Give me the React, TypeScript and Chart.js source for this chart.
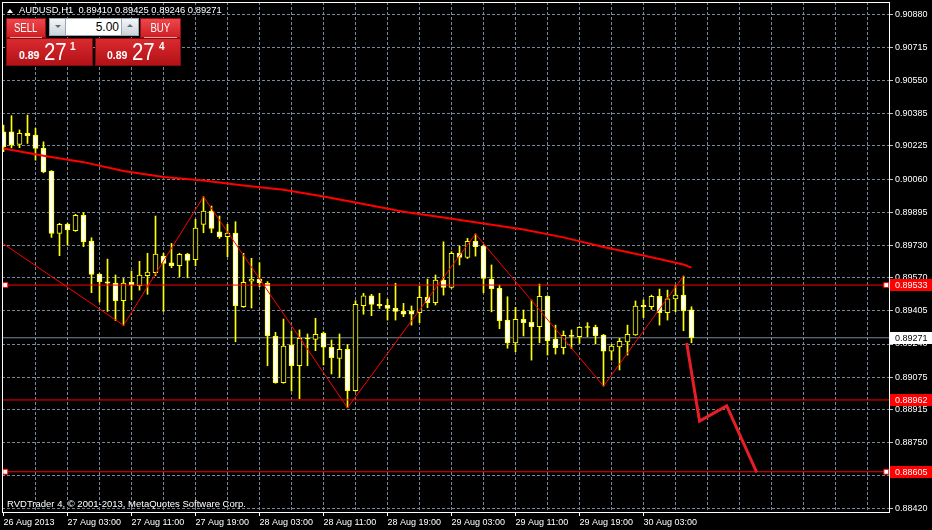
import React, { useEffect, useRef } from "react";
import { Chart, registerables } from "chart.js";

Chart.register(...registerables);

// ---- Data (AUDUSD H1, bars numbered from the left edge) ----
const OPEN = [
  0.90295, 0.90295, 0.90232, 0.90287, 0.90279, 0.90213, 0.90100, 0.89790, 0.89835, 0.89803,
  0.89880, 0.89752, 0.89588, 0.89549, 0.89543, 0.89455, 0.89547, 0.89530, 0.89580, 0.89594,
  0.89677, 0.89643, 0.89629, 0.89687, 0.89659, 0.89835, 0.89901, 0.89797, 0.89773, 0.89792,
  0.89425, 0.89552, 0.89563, 0.89542, 0.89278, 0.89048, 0.89235, 0.89132, 0.89268, 0.89263,
  0.89293, 0.89224, 0.89169, 0.89214, 0.89008, 0.89430, 0.89479, 0.89437, 0.89432, 0.89417,
  0.89402, 0.89402, 0.89396, 0.89472, 0.89445, 0.89558, 0.89521, 0.89691, 0.89670, 0.89750,
  0.89727, 0.89563, 0.89517, 0.89359, 0.89246, 0.89363, 0.89348, 0.89326, 0.89477, 0.89265,
  0.89222, 0.89283, 0.89277, 0.89323, 0.89323, 0.89285, 0.89204, 0.89226, 0.89251, 0.89285,
  0.89432, 0.89425, 0.89477, 0.89396, 0.89464, 0.89483, 0.89410,
];
const HIGH = [
  0.90328, 0.90375, 0.90304, 0.90378, 0.90312, 0.90245, 0.90102, 0.89840, 0.89840, 0.89885,
  0.89893, 0.89768, 0.89590, 0.89662, 0.89583, 0.89566, 0.89603, 0.89651, 0.89691, 0.89876,
  0.89691, 0.89740, 0.89691, 0.89691, 0.89860, 0.89972, 0.89926, 0.89876, 0.89835, 0.89848,
  0.89691, 0.89666, 0.89644, 0.89550, 0.89298, 0.89364, 0.89305, 0.89310, 0.89290, 0.89368,
  0.89300, 0.89260, 0.89290, 0.89238, 0.89455, 0.89492, 0.89487, 0.89492, 0.89462, 0.89542,
  0.89442, 0.89429, 0.89528, 0.89563, 0.89583, 0.89748, 0.89699, 0.89727, 0.89765, 0.89787,
  0.89730, 0.89633, 0.89533, 0.89475, 0.89422, 0.89409, 0.89459, 0.89538, 0.89480, 0.89334,
  0.89305, 0.89310, 0.89326, 0.89346, 0.89334, 0.89288, 0.89238, 0.89268, 0.89334, 0.89454,
  0.89459, 0.89483, 0.89513, 0.89508, 0.89533, 0.89578, 0.89425,
];
const LOW = [
  0.90196, 0.90215, 0.90216, 0.90237, 0.90154, 0.90091, 0.89770, 0.89679, 0.89732, 0.89800,
  0.89724, 0.89495, 0.89449, 0.89402, 0.89356, 0.89333, 0.89459, 0.89508, 0.89487, 0.89580,
  0.89402, 0.89619, 0.89574, 0.89569, 0.89629, 0.89793, 0.89793, 0.89765, 0.89674, 0.89251,
  0.89422, 0.89419, 0.89525, 0.89132, 0.89045, 0.89045, 0.89006, 0.88968, 0.89132, 0.89207,
  0.89136, 0.89091, 0.89074, 0.88923, 0.89005, 0.89388, 0.89381, 0.89417, 0.89359, 0.89359,
  0.89376, 0.89334, 0.89346, 0.89420, 0.89434, 0.89483, 0.89517, 0.89633, 0.89665, 0.89677,
  0.89495, 0.89400, 0.89316, 0.89219, 0.89202, 0.89280, 0.89160, 0.89246, 0.89185, 0.89190,
  0.89190, 0.89217, 0.89243, 0.89276, 0.89240, 0.89031, 0.89160, 0.89111, 0.89185, 0.89283,
  0.89371, 0.89412, 0.89334, 0.89359, 0.89400, 0.89306, 0.89246,
];
const CLOSE = [
  0.90221, 0.90229, 0.90287, 0.90276, 0.90212, 0.90096, 0.89790, 0.89835, 0.89807, 0.89880,
  0.89748, 0.89586, 0.89550, 0.89543, 0.89455, 0.89543, 0.89532, 0.89583, 0.89598, 0.89687,
  0.89641, 0.89629, 0.89686, 0.89656, 0.89816, 0.89901, 0.89815, 0.89773, 0.89792, 0.89430,
  0.89547, 0.89563, 0.89545, 0.89281, 0.89048, 0.89230, 0.89132, 0.89268, 0.89265, 0.89288,
  0.89224, 0.89172, 0.89214, 0.89008, 0.89437, 0.89479, 0.89437, 0.89430, 0.89417, 0.89402,
  0.89388, 0.89388, 0.89472, 0.89445, 0.89558, 0.89521, 0.89691, 0.89670, 0.89750, 0.89724,
  0.89566, 0.89515, 0.89356, 0.89246, 0.89363, 0.89346, 0.89326, 0.89477, 0.89256, 0.89222,
  0.89283, 0.89278, 0.89323, 0.89322, 0.89281, 0.89204, 0.89230, 0.89253, 0.89288, 0.89429,
  0.89425, 0.89477, 0.89396, 0.89464, 0.89483, 0.89405, 0.89271,
];

const X_LABELS = [
  "26 Aug 2013", "27 Aug 03:00", "27 Aug 11:00", "27 Aug 19:00", "28 Aug 03:00", "28 Aug 11:00",
  "28 Aug 19:00", "29 Aug 03:00", "29 Aug 11:00", "29 Aug 19:00", "30 Aug 03:00",
];
const X_LABEL_BARS = [0, 8, 16, 24, 32, 40, 48, 56, 64, 72, 80];

const Y_TICKS = [
  0.9088, 0.90715, 0.9055, 0.90385, 0.90225, 0.9006, 0.89895, 0.8973, 0.8957, 0.89405,
  0.8924, 0.89075, 0.88915, 0.8875, 0.88585, 0.8842,
];

const ZIGZAG_BARS = [-0.3, 15, 25, 43, 59, 75, 85];
const ZIGZAG_PRICES = [0.89746, 0.89333, 0.89972, 0.88923, 0.89787, 0.89031, 0.89578];

const TREND_BARS = [0, 5, 10, 15, 20, 25, 30, 35, 40, 45, 50, 55, 60, 65, 70, 75, 80, 85, 86];
const TREND_PRICES = [
  0.90212, 0.90176, 0.90144, 0.901, 0.9007, 0.90053, 0.90028, 0.90007, 0.89973, 0.89936,
  0.89897, 0.89869, 0.89839, 0.89809, 0.8977, 0.89722, 0.8968, 0.89635, 0.8962,
];

const FORECAST_BARS = [85.4, 87.0, 90.4, 94.15];
const FORECAST_PRICES = [0.89245, 0.88857, 0.88932, 0.88602];

const LEVELS = [0.89533, 0.88962, 0.88605];
const SELECTED_LEVELS = [0.89533, 0.88605];
const SELECTED_MARK_BARS = [0.225, 110.35];
const BID = 0.89271;

// ---- Scale settings ----
const X_MIN = -0.1875;
const X_MAX = 110.6875;
const X_GRID_STEP = 4;
const Y_MIN = 0.88405;
const Y_MAX = 0.9094;

const FONT = '"Liberation Sans", Arial, sans-serif';
const GRID = "#778899";
const YELLOW = "#ffff00";
const RED = "#ff0000";
const CLEAR = "rgba(0,0,0,0)";

const framePlugin = {
  id: "mt4Frame",
  afterDraw(chart: any) {
    const { ctx, chartArea: a, scales } = chart;
    const y = scales.y;
    ctx.save();
    ctx.strokeStyle = "#ffffff";
    ctx.lineWidth = 1;
    ctx.setLineDash([]);
    ctx.strokeRect(a.left + 0.5, a.top + 0.5, a.right - a.left, a.bottom - a.top);
    ctx.font = `9px ${FONT}`;
    ctx.textBaseline = "middle";
    ctx.textAlign = "left";
    const tags = [
      ...LEVELS.map((v) => ({ v, bg: "#ff0000", fg: "#ffffff" })),
      { v: BID, bg: "#ffffff", fg: "#000000" },
    ];
    for (const t of tags) {
      const py = Math.round(y.getPixelForValue(t.v));
      ctx.fillStyle = t.bg;
      ctx.fillRect(a.right + 1, py - 6, chart.width - a.right - 1, 12);
      ctx.fillStyle = t.fg;
      ctx.fillText(t.v.toFixed(5), a.right + 6, py + 0.5);
    }
    ctx.restore();
  },
};

function CandleChart() {
  const ref = useRef<HTMLCanvasElement | null>(null);
  useEffect(() => {
    const canvas = ref.current;
    if (!canvas) return;
    const idx = OPEN.map((_, i) => i);
    const hline = (v: number) => [
      { x: X_MIN - 2, y: v },
      { x: X_MAX + 2, y: v },
    ];
    const datasets: any[] = [
      {
        type: "line",
        data: hline(BID),
        borderColor: GRID,
        borderWidth: 1,
        pointRadius: 0,
        order: 40,
      },
      {
        type: "bar",
        data: idx.map((i) => ({ x: i, y: [LOW[i], HIGH[i]] })),
        backgroundColor: YELLOW,
        borderWidth: 0,
        barThickness: 1,
        grouped: false,
        order: 30,
      },
      {
        type: "bar",
        data: idx.map((i) => ({ x: i, y: [OPEN[i], CLOSE[i]] })),
        backgroundColor: idx.map((i) => (CLOSE[i] > OPEN[i] ? "#000000" : "#ffffff")),
        borderColor: YELLOW,
        borderWidth: 1,
        borderSkipped: false,
        barThickness: 5,
        minBarLength: 1,
        grouped: false,
        order: 20,
      },
      ...LEVELS.map((v) => ({
        type: "line",
        data: hline(v),
        borderColor: RED,
        borderWidth: 1,
        pointRadius: 0,
        order: 10,
      })),
      {
        type: "line",
        data: TREND_BARS.map((b, i) => ({ x: b, y: TREND_PRICES[i] })),
        borderColor: RED,
        borderWidth: 2,
        pointRadius: 0,
        order: 9,
      },
      {
        type: "line",
        data: ZIGZAG_BARS.map((b, i) => ({ x: b, y: ZIGZAG_PRICES[i] })),
        borderColor: RED,
        borderWidth: 1,
        pointRadius: 0,
        order: 8,
      },
      {
        type: "line",
        data: FORECAST_BARS.map((b, i) => ({ x: b, y: FORECAST_PRICES[i] })),
        borderColor: "#e61e26",
        borderWidth: 3,
        pointRadius: 0,
        order: 7,
      },
      {
        type: "line",
        data: SELECTED_LEVELS.flatMap((v) => SELECTED_MARK_BARS.map((b) => ({ x: b, y: v }))),
        showLine: false,
        pointStyle: "rect",
        pointRadius: 3.5,
        pointBackgroundColor: "#ffffff",
        pointBorderColor: RED,
        pointBorderWidth: 1,
        clip: false,
        order: 1,
      },
    ];

    const chart = new Chart(canvas, {
      type: "line",
      data: { datasets },
      options: {
        responsive: false,
        maintainAspectRatio: false,
        animation: false,
        devicePixelRatio: 1,
        events: [],
        layout: { padding: { left: 2, top: 2, right: 0, bottom: 0 }, autoPadding: false },
        plugins: { legend: { display: false }, tooltip: { enabled: false } },
        scales: {
          x: {
            type: "linear",
            min: X_MIN,
            max: X_MAX,
            offset: false,
            border: { display: false, dash: [3, 2] },
            grid: {
              offset: false,
              color: (c: any) => (c.tick && Math.abs(c.tick.value) < 1e-9 ? CLEAR : GRID),
              borderDash: [3, 2],
              tickLength: 4,
              tickColor: (c: any) =>
                c.tick && X_LABEL_BARS.includes(c.tick.value) ? "#ffffff" : CLEAR,
            },
            ticks: {
              autoSkip: false,
              maxRotation: 0,
              minRotation: 0,
              align: "start",
              padding: 1,
              color: "#ffffff",
              font: { family: FONT, size: 9 },
              callback: (v: any) => {
                const k = X_LABEL_BARS.indexOf(Number(v));
                return k >= 0 ? X_LABELS[k] : "";
              },
            },
            afterBuildTicks: (s: any) => {
              const ticks: any[] = [];
              for (let v = 0; v <= s.max; v += X_GRID_STEP) ticks.push({ value: v });
              s.ticks = ticks;
            },
            afterFit: (s: any) => {
              s.height = 18;
              s.paddingLeft = 0;
              s.paddingRight = 0;
            },
          },
          y: {
            type: "linear",
            position: "right",
            min: Y_MIN,
            max: Y_MAX,
            beginAtZero: false,
            border: { display: false, dash: [3, 2] },
            grid: {
              color: GRID,
              borderDash: [3, 2],
              tickLength: 4,
              tickColor: "#c0c8d0",
            },
            ticks: {
              autoSkip: false,
              padding: 2,
              color: "#ffffff",
              font: { family: FONT, size: 9 },
              callback: (v: any) => Number(v).toFixed(5),
            },
            afterBuildTicks: (s: any) => {
              s.ticks = Y_TICKS.map((v) => ({ value: v }));
            },
            afterFit: (s: any) => {
              s.width = 43;
              s.paddingTop = 0;
              s.paddingBottom = 0;
            },
          },
        },
      } as any,
      plugins: [framePlugin],
    } as any);
    return () => chart.destroy();
  }, []);
  return (
    <canvas
      ref={ref}
      width={932}
      height={530}
      style={{ position: "absolute", left: 0, top: 0, width: 932, height: 530 }}
    />
  );
}

const abs = (l: number, t: number, w?: number, h?: number, extra: any = {}) => ({
  position: "absolute" as const,
  left: l,
  top: t,
  width: w,
  height: h,
  boxSizing: "border-box" as const,
  ...extra,
});

function TradePanel() {
  const btn = "linear-gradient(#ee474b, #cf1f25)";
  const price = "linear-gradient(#da2a2f, #b31217)";
  const txt = (size: number, weight = "normal") => ({
    font: `${weight} ${size}px/${Math.round(size)}px ${FONT}`,
    color: "#ffffff",
    whiteSpace: "pre" as const,
  });
  const narrow = (s: string) => (
    <span style={{ display: "inline-block", transform: "scaleX(0.8)", ...txt(12) }}>{s}</span>
  );
  return (
    <>
      <div
        style={abs(7, 9, 0, 0, {
          borderLeft: "3px solid transparent",
          borderRight: "3px solid transparent",
          borderBottom: "4px solid #ffffff",
        })}
      />
      <div style={abs(19, 5, undefined, undefined, txt(9.4))}>
        {"AUDUSD,H1  0.89410 0.89425 0.89246 0.89271"}
      </div>

      <div
        style={abs(6, 18, 40, 20, {
          background: btn,
          border: "1px solid #8c1014",
          display: "flex",
          alignItems: "center",
          justifyContent: "center",
        })}
      >
        {narrow("SELL")}
      </div>
      <div style={abs(10, 37, 32, 1, { background: "#f2a0a0" })} />

      <div style={abs(49, 18, 90, 18, { background: "#ffffff", border: "1px solid #9ca6b0" })} />
      <div
        style={abs(49, 18, 17, 18, {
          background: "linear-gradient(#f4f6f8, #cdd3d9)",
          border: "1px solid #9ca6b0",
        })}
      />
      <div
        style={abs(55, 25, 0, 0, {
          borderLeft: "3px solid transparent",
          borderRight: "3px solid transparent",
          borderTop: "3px solid #5b6c7d",
        })}
      />
      <div
        style={abs(121, 18, 18, 18, {
          background: "linear-gradient(#f4f6f8, #cdd3d9)",
          border: "1px solid #9ca6b0",
        })}
      />
      <div
        style={abs(127, 24, 0, 0, {
          borderLeft: "3px solid transparent",
          borderRight: "3px solid transparent",
          borderBottom: "3px solid #5b6c7d",
        })}
      />
      <div style={abs(66, 21, 53, 12, { textAlign: "right", font: `12px/12px ${FONT}`, color: "#000" })}>
        5.00
      </div>

      <div
        style={abs(140, 18, 41, 20, {
          background: btn,
          border: "1px solid #8c1014",
          display: "flex",
          alignItems: "center",
          justifyContent: "center",
        })}
      >
        {narrow("BUY")}
      </div>
      <div style={abs(144, 37, 33, 1, { background: "#f2a0a0" })} />

      <div style={abs(6, 38, 87, 28, { background: price, border: "1px solid #7d0d10" })} />
      <div style={abs(95, 38, 86, 28, { background: price, border: "1px solid #7d0d10" })} />

      <div style={abs(19, 50, undefined, undefined, txt(10.5, "bold"))}>0.89</div>
      <div
        style={abs(44, 40, undefined, undefined, {
          ...txt(24),
          transform: "scaleX(0.85)",
          transformOrigin: "left top",
        })}
      >
        27
      </div>
      <div style={abs(70, 42, undefined, undefined, txt(10, "bold"))}>1</div>

      <div style={abs(107, 50, undefined, undefined, txt(10.5, "bold"))}>0.89</div>
      <div
        style={abs(132, 40, undefined, undefined, {
          ...txt(24),
          transform: "scaleX(0.85)",
          transformOrigin: "left top",
        })}
      >
        27
      </div>
      <div style={abs(159, 42, undefined, undefined, txt(10, "bold"))}>4</div>

      <div style={abs(7, 499, undefined, undefined, txt(9.5))}>
        {"RVDTrader 4, © 2001-2013, MetaQuotes Software Corp."}
      </div>
    </>
  );
}

export default function App() {
  return (
    <div
      style={{
        position: "fixed",
        left: 0,
        top: 0,
        width: 932,
        height: 530,
        background: "#000000",
        overflow: "hidden",
      }}
    >
      <CandleChart />
      <TradePanel />
    </div>
  );
}
